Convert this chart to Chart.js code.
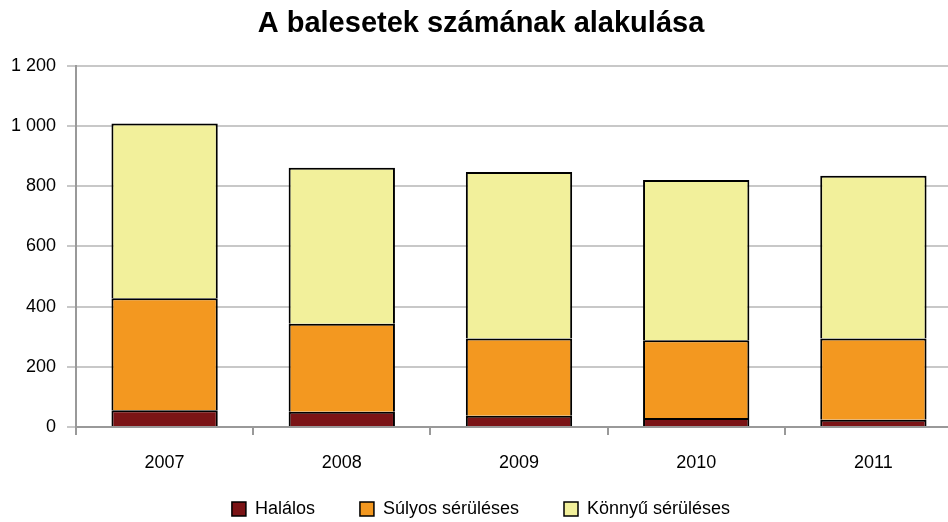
<!DOCTYPE html>
<html lang="hu">

<head>
    <meta charset="UTF-8">
    <title>A balesetek számának alakulása</title>
    <script src="https://cdn.jsdelivr.net/npm/chart.js"></script>
    <style>
        html, body { margin: 0; padding: 0; overflow: hidden; background: #fff; }
        #wrap { width: 962px; height: 522px; }
    </style>
</head>

<body>
    <div id="wrap"><canvas id="accidentChart" width="962" height="522"></canvas></div>
    <script>
        const years = ['2007', '2008', '2009', '2010', '2011'];
        const halalos = [56, 51, 37, 30, 24];
        const sulyos = [372, 292, 257, 258, 270];
        const konnyu = [580, 518, 553, 533, 541];

        const ctx = document.getElementById('accidentChart').getContext('2d');
        Chart.defaults.font.family = '"Liberation Sans", Arial, sans-serif';
        Chart.defaults.color = '#000';

        // legend padding also spaces the items apart, so grow the box upwards a bit
        const legendLift = {
            id: 'legendLift',
            afterLayout(chart) {
                chart.legend.top -= 19;
                chart.legend.height += 19;
            }
        };

        new Chart(ctx, {
            type: 'bar',
            data: {
                labels: years,
                datasets: [
                    { label: 'Halálos', data: halalos, backgroundColor: '#7B1416' },
                    { label: 'Súlyos sérüléses', data: sulyos, backgroundColor: '#F39820' },
                    { label: 'Könnyű sérüléses', data: konnyu, backgroundColor: '#F2F09B' }
                ].map(ds => Object.assign(ds, {
                    borderColor: '#000',
                    borderWidth: { top: 2, left: 2, right: 2, bottom: 0 },
                    borderSkipped: false,
                    barPercentage: 0.6,
                    categoryPercentage: 1
                }))
            },
            options: {
                responsive: false,
                animation: false,
                layout: { padding: 0 },
                plugins: {
                    title: {
                        display: true,
                        text: 'A balesetek számának alakulása',
                        font: { size: 29, weight: 'bold' },
                        color: '#000',
                        padding: { top: 7, bottom: 24 }
                    },
                    legend: {
                        position: 'bottom',
                        maxHeight: 48,
                        labels: {
                            font: { size: 18 },
                            boxWidth: 14,
                            boxHeight: 14,
                            padding: 45,
                            color: '#000'
                        }
                    },
                    tooltip: { enabled: false }
                },
                scales: {
                    x: {
                        stacked: true,
                        afterFit: scale => { scale.height = 47; },
                        grid: {
                            offset: true,
                            drawOnChartArea: false,
                            color: '#999',
                            lineWidth: 2,
                            tickLength: 8
                        },
                        border: { color: '#999', width: 2 },
                        ticks: { font: { size: 18 }, padding: 17, color: '#000' }
                    },
                    y: {
                        stacked: true,
                        min: 0,
                        max: 1200,
                        afterFit: scale => { scale.width = 76; },
                        grid: { color: '#c8c8c8', lineWidth: 2, tickLength: 9 },
                        border: { color: '#999', width: 2 },
                        ticks: {
                            stepSize: 200,
                            font: { size: 18 },
                            padding: 11,
                            color: '#000',
                            callback: v => String(v).replace(/\B(?=(\d{3})+(?!\d))/g, ' ')
                        }
                    }
                }
            },
            plugins: [legendLift]
        });
    </script>
</body>

</html>
